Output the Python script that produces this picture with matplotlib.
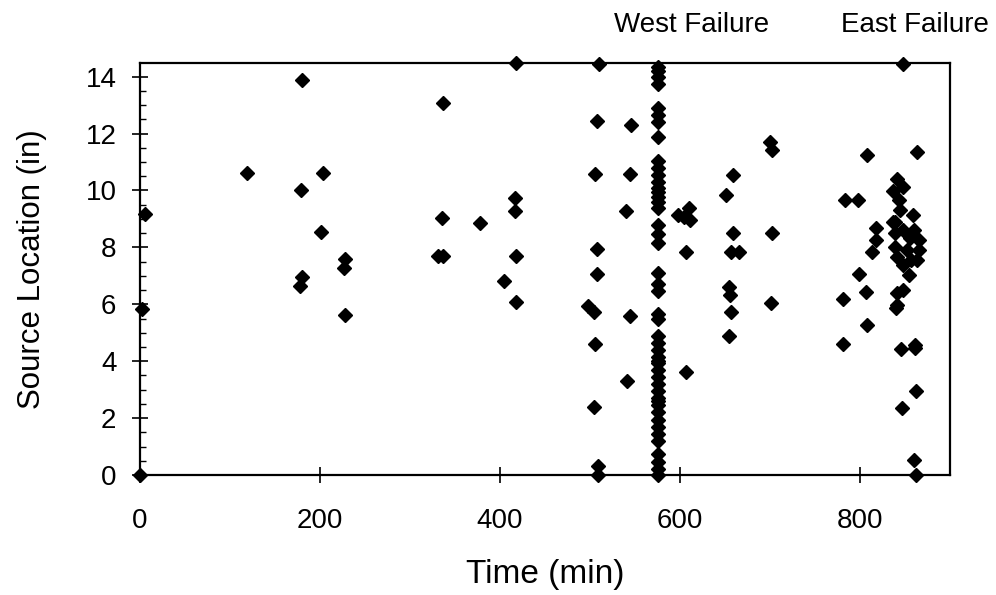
import matplotlib
matplotlib.use("Agg")
import matplotlib.pyplot as plt
from matplotlib.ticker import MultipleLocator

plt.rcParams['font.family'] = ['Liberation Sans', 'DejaVu Sans']

# Scattered early events (time in min, source location in in)
early_t = [0, 2, 5.6, 119, 178, 179, 180, 180, 201, 203, 227, 228, 228,
           331, 335, 337, 337, 378, 404, 417, 417, 418, 418, 418]
early_v = [0, 5.82, 9.19, 10.62, 6.65, 10.01, 6.97, 13.9, 8.55, 10.62, 7.26, 7.58, 5.64,
           7.70, 9.02, 7.70, 13.08, 8.86, 6.81, 9.72, 9.28, 7.69, 6.09, 14.48]

# Events between 495 and 545 min
mid_t = [498, 504, 504, 505, 506, 508, 508, 508, 509, 509, 510,
         540, 541, 544, 544, 546]
mid_v = [5.94, 5.74, 2.40, 4.60, 10.57, 12.45, 7.93, 7.08, 0.32, 0.0, 14.46,
         9.28, 3.30, 10.57, 5.60, 12.29]

# West failure column (~575 min)
west_t = [575] * 47
west_v = [14.35, 14.0, 13.75, 12.9, 12.65, 12.4, 11.87,
          11.05, 10.8, 10.55, 10.3, 10.1, 9.95, 9.78, 9.6, 9.4,
          8.8, 8.47, 8.15, 7.1, 6.7, 6.45, 5.65, 5.5,
          4.9, 4.65, 4.4, 4.15, 3.95, 3.7, 3.45, 3.2, 2.95, 2.7,
          2.45, 2.2, 1.95, 1.7, 1.45, 1.2, 0.75, 0.45, 0.2, 0.0,
          14.2, 4.0, 2.6]

# Events between 595 and 705 min
late_t = [598, 604, 607, 607, 610, 611,
          651, 654, 654, 656, 657, 657, 659, 659, 665,
          700, 701, 702, 702]
late_v = [9.15, 9.05, 7.84, 3.63, 9.40, 8.95,
          9.83, 6.61, 4.89, 6.32, 5.74, 7.82, 10.56, 8.51, 7.82,
          11.71, 6.05, 11.42, 8.51]

# East failure cluster (~780-865 min)
east_t = [781, 781, 783, 798, 799, 807, 808, 808, 813, 818, 818,
          837, 839, 839, 841, 841, 843, 844, 837, 848, 848, 848,
          856, 859, 860, 865, 839, 852, 865, 841, 857, 848, 863, 854,
          841, 848, 840, 846, 847, 861, 861, 862, 860, 862, 863]
east_v = [6.20, 4.59, 9.66, 9.66, 7.06, 6.44, 11.24, 5.27, 7.85, 8.67, 8.26,
          9.99, 8.90, 8.50, 10.42, 7.67, 9.67, 9.31, 8.90, 10.11, 8.61, 7.38,
          8.32, 9.14, 8.60, 8.26, 8.02, 7.91, 7.91, 6.39, 7.56, 6.50, 7.56, 7.03,
          5.98, 14.44, 5.88, 4.43, 2.37, 4.57, 4.45, 2.96, 0.53, 0.0, 11.36]

time = early_t + mid_t + west_t + late_t + east_t
loc = early_v + mid_v + west_v + late_v + east_v

x_ticks = [0, 200, 400, 600, 800]
y_ticks = [0, 2, 4, 6, 8, 10, 12, 14]
annotations = [("West Failure", 613), ("East Failure", 861)]

fig = plt.figure(figsize=(9.96, 5.95), dpi=100)
ax = fig.add_axes([140/996, 1 - 475/595, 810/996, 412/595])

ax.plot(time, loc, linestyle='none', marker='D', markersize=6.8,
        color='black', clip_on=False)

ax.set_xlim(0, 900)
ax.set_ylim(0, 14.48)
ax.set_xticks(x_ticks)
ax.set_yticks(y_ticks)
ax.yaxis.set_minor_locator(MultipleLocator(0.5))
ax.tick_params(axis='both', which='major', direction='inout', length=12,
               width=1.2, labelsize=20)
ax.tick_params(axis='y', which='minor', direction='in', length=4.5, width=1.0)
ax.tick_params(axis='x', which='major', pad=18)
ax.tick_params(axis='y', which='major', pad=11)
for s in ax.spines.values():
    s.set_linewidth(1.6)

ax.set_xlabel("Time (min)", fontsize=24, labelpad=18)
ax.set_ylabel("Source Location (in)", fontsize=22.5, labelpad=28)

for txt, tx in annotations:
    ax.text(tx, 1.075, txt, transform=ax.get_xaxis_transform(),
            ha='center', va='baseline', fontsize=20)

fig.savefig("out.png", dpi=100)
